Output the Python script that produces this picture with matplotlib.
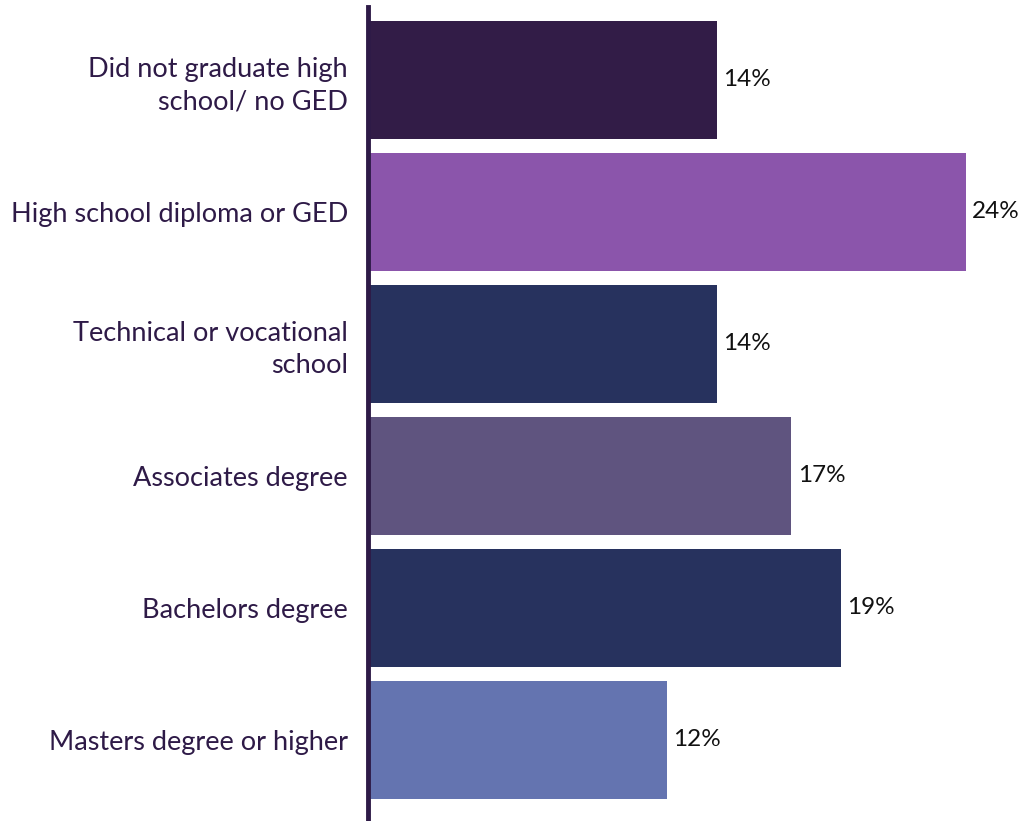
import matplotlib.pyplot as plt

categories = ['Did not graduate high\nschool/ no GED', 'High school diploma or GED',
              'Technical or vocational\nschool', 'Associates degree',
              'Bachelors degree', 'Masters degree or higher']
values = [14, 24, 14, 17, 19, 12]
colors = ['#321C47', '#8B55AB', '#27325E', '#5F547F', '#27325E', '#6474B0']

plt.rcParams['font.family'] = ['Lato', 'DejaVu Sans']

fig = plt.figure(figsize=(10.3, 8.21), dpi=100)
ax = fig.add_axes([368 / 1030, 0, 1 - 368 / 1030, 1 - 7 / 821])

y = range(len(categories))
ax.barh(y, values, height=0.9, color=colors)
for i, v in enumerate(values):
    ax.text(v + 0.25, i, f'{v}%', va='center', ha='left', fontsize=17.5, color='#111111')

ax.set_yticks(list(y))
ax.set_yticklabels(categories, fontsize=19.5, color='#2E1A47', linespacing=1.35)
ax.tick_params(axis='y', length=0, pad=14.5)
ax.set_xticks([])
ax.set_xlim(0, 26.58)
ax.set_ylim(5.614, -0.553)
for s in ['top', 'right', 'bottom']:
    ax.spines[s].set_visible(False)
ax.spines['left'].set_linewidth(3.5)
ax.spines['left'].set_color('#2E1A47')

fig.savefig('out.png', dpi=100)
